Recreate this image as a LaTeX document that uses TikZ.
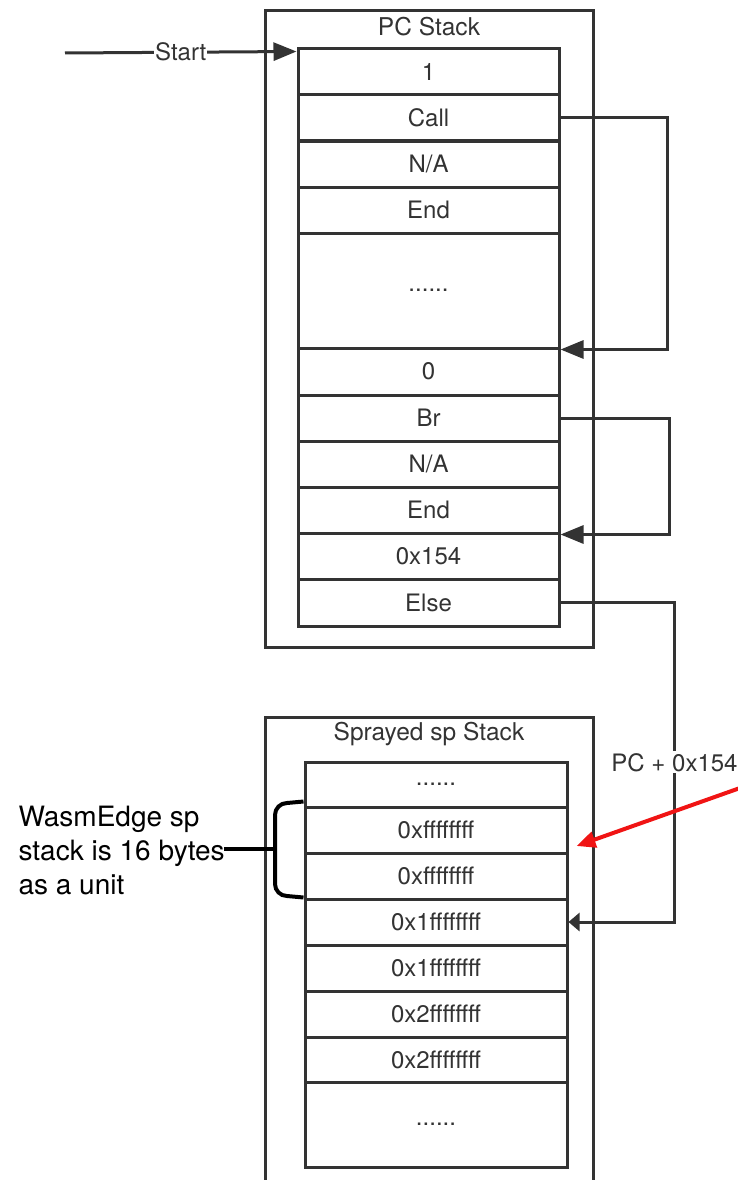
\documentclass[tikz,border=0pt]{standalone}
\usepackage{fontspec}
\setmainfont{TeX Gyre Heros}
\usepackage{tikz}
\usetikzlibrary{positioning,arrows.meta,calc}
\definecolor{inkgray}{RGB}{51,51,51}
\definecolor{alertred}{RGB}{240,20,20}

\begin{document}
\begin{tikzpicture}[
  x=1pt, y=-1pt,
  outerbox/.style={draw=inkgray, line width=3pt, inner sep=0pt},
  cell/.style={draw=inkgray, line width=3pt, minimum width=261pt, minimum height=46pt, inner sep=0pt, text=inkgray, font={\fontsize{24}{28}\selectfont}},
  spcell/.style={cell, minimum width=262pt},
  boxtitle/.style={text=inkgray, font={\fontsize{24.5}{28}\selectfont}},
  flow/.style={draw=inkgray, line width=3pt, -{Triangle[length=23pt,width=18pt]}},
  hint/.style={draw=alertred, line width=4pt, -{Triangle[length=19pt,width=16pt]}}
]
\useasboundingbox (0,0) rectangle (738,1180);

% PC stack
\node[outerbox, minimum width=328pt, minimum height=636pt] (pcbox) at (429,329) {};
\node[boxtitle] (pctitle) at (429,27) {PC Stack};
\node[cell] (p1) at (428.5,72) {1};
\node[cell] (p2) at (428.5,118) {Call};
\node[cell] (p3) at (428.5,164) {N/A};
\node[cell] (p4) at (428.5,210) {End};
\node[cell, minimum height=115pt] (p5) at (428.5,290.5) {......};
\node[cell, minimum height=47pt] (p6) at (428.5,371.5) {0};
\node[cell] (p7) at (428.5,418) {Br};
\node[cell] (p8) at (428.5,464) {N/A};
\node[cell] (p9) at (428.5,510) {End};
\node[cell] (p10) at (428.5,556) {0x154};
\node[cell, minimum height=47pt] (p11) at (428.5,602.5) {Else};

% sprayed sp stack (runs off the bottom)
\draw[draw=inkgray, line width=3pt] (265,1180) -- (265,717) -- (593,717) -- (593,1180);
\node[boxtitle] (sptitle) at (429,734) {Sprayed sp Stack};
\node[spcell, minimum height=45pt] (s1) at (436,784.5) {......};
\node[spcell] (s2) at (436,830) {0xffffffff};
\node[spcell] (s3) at (436,876) {0xffffffff};
\node[spcell] (s4) at (436,922) {0x1ffffffff};
\node[spcell] (s5) at (436,968) {0x1ffffffff};
\node[spcell] (s6) at (436,1014) {0x2ffffffff};
\node[spcell, minimum height=45pt] (s7) at (436,1059.5) {0x2ffffffff};
\node[spcell, minimum height=85pt] (s8) at (436,1124.5) {......};

% jumps
\coordinate (startin) at (65,53);
\draw[flow] (startin) -- node[fill=white, inner sep=1pt, text=inkgray, font={\fontsize{24}{28}\selectfont}] (startlbl) {Start} ([yshift=-4pt]p1.north west);
\draw[flow] (p2.east) -- ++(107,0) |- (p5.south east);
\draw[flow] (p7.east) -- ++(109,0) |- (p9.south east);
\draw[flow, -{Triangle[length=11pt,width=18pt]}] (p11.east) -- ++(114,0) |- node[pos=0.25, fill=white, inner sep=2pt, text=inkgray, font={\fontsize{24}{28}\selectfont}] (offlbl) {PC + 0x154} (s4.east);

% note on the unit size
\node[anchor=west, align=left, font={\fontsize{28}{34}\selectfont}] (unitnote) at (15,850) {WasmEdge sp\\stack is 16 bytes\\as a unit};
\coordinate (bracetip) at (224,849);
\draw[line width=4pt] ([yshift=4pt]s2.north west) -- (287,803) to[out=180,in=90] (275,815) -- (275,884) to[out=-90,in=180] (287,896) -- ([yshift=3pt]s3.south west);
\draw[line width=4pt] (275,849) -- (bracetip);

\coordinate (redtail) at (740,788);
\draw[hint] (redtail) -- ([xshift=8pt,yshift=-16pt]s2.east);
\end{tikzpicture}
\end{document}
